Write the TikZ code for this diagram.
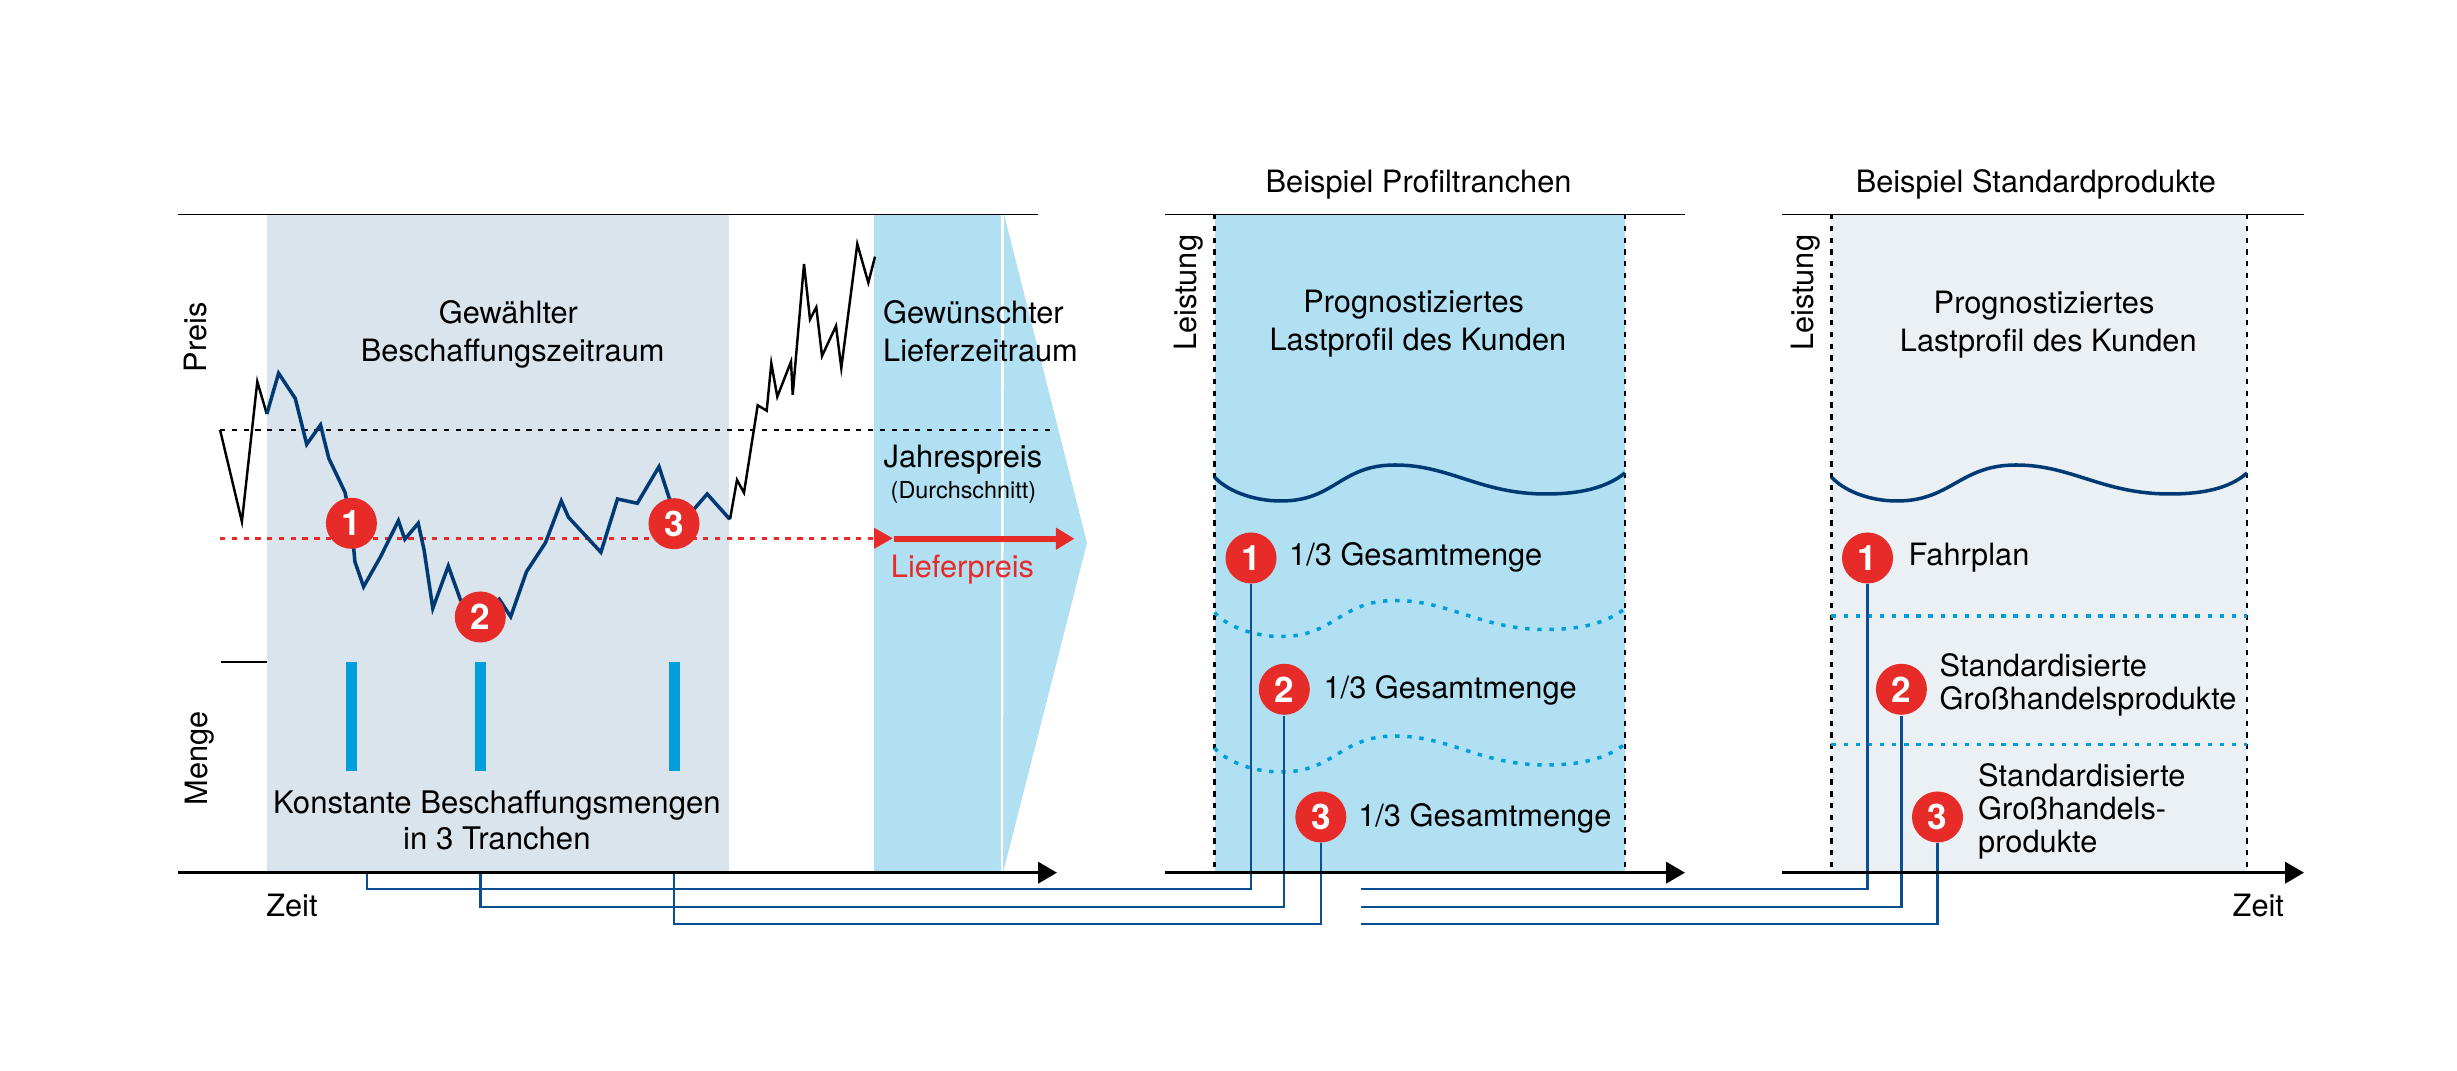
\documentclass[tikz,border=0pt]{standalone}
\usepackage{xcolor}
\usepackage{fontspec}
\setmainfont{TeX Gyre Heros}
\usetikzlibrary{arrows.meta}
\definecolor{graublau}{HTML}{D9E4EC}
\definecolor{hellblau}{HTML}{B1E0F3}
\definecolor{blassblau}{HTML}{EBF0F5}
\definecolor{signalrot}{HTML}{E62B28}
\definecolor{kurvenblau}{HTML}{003A75}
\definecolor{leiterblau}{HTML}{0B4F92}
\definecolor{balkenblau}{HTML}{009FDB}

\begin{document}
\begin{tikzpicture}[x=0.01cm, y=-0.01cm, >=Stealth,
  every node/.style={inner sep=0pt, font=\fontsize{8.75}{10.9}\selectfont},
  txt/.style={anchor=base west, align=left},
  eng/.style={font=\fontsize{8.75}{9.5}\selectfont},
  mitte/.style={anchor=base, align=center},
  klein/.style={anchor=base west, font=\fontsize{6.65}{8}\selectfont},
  hoch/.style={anchor=base west, rotate=90},
  marke/.style={circle, fill=signalrot, minimum size=0.51cm, text=white, font=\fontsize{10}{10}\selectfont\bfseries},
  kopflinie/.style={line width=0.42pt},
  achse/.style={-{Stealth[inset=0pt, length=5.4pt, width=6pt]}, line width=1pt},
  strich/.style={dash pattern=on 1.5pt off 1.85pt, line width=0.72pt},
  punkte/.style={balkenblau, dash pattern=on 1.25pt off 2.2pt, line width=1pt},
  last/.style={kurvenblau, line width=1pt},
  schwarzkurve/.style={line width=0.7pt},
  leiter/.style={leiterblau, line width=0.65pt},
  balken/.style={balkenblau, line width=3.1pt}]
\useasboundingbox (0,0) rectangle (2457,1071);

% Panels
\fill[graublau] (267,214) rectangle (729,873);
\fill[hellblau] (874,214) rectangle (1001,873);
\fill[hellblau] (1004,214) -- (1087,543) -- (1003,873) -- cycle;
\fill[hellblau] (1214.5,214) rectangle (1625,873);
\fill[blassblau] (1831.4,214) rectangle (2247,873);

% Top lines
\draw[kopflinie] (178,214.3) -- (1038,214.3);
\draw[kopflinie] (1165,214.3) -- (1685,214.3);
\draw[kopflinie] (1782,214.3) -- (2304,214.3);

% Dashed borders
\draw[strich] (1214.5,214) -- (1214.5,873);
\draw[strich] (1625,214) -- (1625,873);
\draw[strich] (1831.4,214) -- (1831.4,873);
\draw[strich] (2247,214) -- (2247,873);

% Price levels
\draw[strich] (220,430) -- (1050,430);
\draw[strich, signalrot] (220,538.3) -- (874,538.3);
\draw[line width=0pt, signalrot, -{Stealth[inset=0pt, length=5.3pt, width=6pt]}] (874,538.3) -- (892.7,538.3);

% Price curve
\draw[schwarzkurve] (220.1,430) -- (241.9,521.7) -- (257.3,381.7) -- (266.8,414);
\draw[last] (266.8,414) -- (278.6,373.3) -- (295.2,398.3) -- (306.7,444.3) -- (320.5,425)
  -- (328.8,458.3) -- (345,492.3) -- (351.4,523) -- (354.9,561.7) -- (363.6,586.7) -- (380.6,556.7)
  -- (398.4,520.7) -- (404.8,539.3) -- (418.2,523.3) -- (424.1,550) -- (432.8,608.3) -- (448.3,566)
  -- (460.5,600) -- (480.3,617) -- (499.3,599.3) -- (510.7,616.7) -- (526.5,571.7) -- (545.5,542.7)
  -- (561.3,501) -- (568.5,517.3) -- (600.9,552.3) -- (617.5,499) -- (637.3,503.3) -- (659,466.7)
  -- (669.3,498.3) -- (682,523) -- (707.2,494) -- (729.8,519.3);
\draw[schwarzkurve] (730,519.3) -- (737,480) -- (744,492.7) -- (757.7,405.3) -- (766.7,410.7)
  -- (771.3,363.3) -- (777.3,396.7) -- (791,361.7) -- (792.7,394.7) -- (804,264) -- (810,319.3)
  -- (816.3,307.3) -- (822,356) -- (836,326) -- (841.3,368) -- (857.3,244) -- (868.3,282.7) -- (875,256.7);

% Delivery price
\coordinate (lpa) at (894,538.7);
\coordinate (lpb) at (1079,538.7);
\draw[signalrot, line width=1.6pt, -{Stealth[inset=0pt, length=5.3pt, width=6pt, sep=1.3pt]}] (lpa) -- (lpb);

% Quantities
\draw[balken] (351.3,661.7) -- (351.3,771);
\draw[balken] (480.6,661.7) -- (480.6,771);
\draw[balken] (674.2,661.7) -- (674.2,771);
\draw[line width=0.65pt] (221,662) -- (267,662);

% Load profiles
\draw[last] (1214.5,477) .. controls (1226,490) and (1252,501) .. (1281,501)
  .. controls (1335,501) and (1340,465) .. (1395,465)
  .. controls (1450,465) and (1480,494) .. (1546,494)
  .. controls (1580,494) and (1606,488) .. (1625,473);
\draw[punkte] (1214.5,612.5) .. controls (1226,625.5) and (1252,636.5) .. (1281,636.5)
  .. controls (1335,636.5) and (1340,600.5) .. (1395,600.5)
  .. controls (1450,600.5) and (1480,629.5) .. (1546,629.5)
  .. controls (1580,629.5) and (1606,623.5) .. (1625,608.5);
\draw[punkte] (1214.5,748) .. controls (1226,761) and (1252,772) .. (1281,772)
  .. controls (1335,772) and (1340,736) .. (1395,736)
  .. controls (1450,736) and (1480,765) .. (1546,765)
  .. controls (1580,765) and (1606,759) .. (1625,744);
\draw[last] (1831.4,477) .. controls (1843,490) and (1868,501) .. (1897,501)
  .. controls (1951,501) and (1960,465) .. (2016,465)
  .. controls (2072,465) and (2102,494) .. (2170,494)
  .. controls (2204,494) and (2230,488) .. (2247,473);
\draw[punkte] (1831.4,616) -- (2247,616);
\draw[punkte] (1831.4,744.7) -- (2247,744.7);

% Markers
\node[marke] (k1) at (351.4,523.3) {1};
\node[marke] (k2) at (480.3,617) {2};
\node[marke] (k3) at (674,523.7) {3};
\node[marke] (p1) at (1251,558) {1};
\node[marke] (p2) at (1284.3,689.3) {2};
\node[marke] (p3) at (1320.8,817) {3};
\node[marke] (s1) at (1867.5,558) {1};
\node[marke] (s2) at (1901.4,689.3) {2};
\node[marke] (s3) at (1937.5,817) {3};

% Leaders
\coordinate (ta) at (367.3,873);
\coordinate (tb) at (480.6,873);
\coordinate (tc) at (674.2,873);
\coordinate (ua) at (1251,889.3);
\coordinate (ub) at (1284.3,907);
\coordinate (uc) at (1320.8,924.3);
\coordinate (va) at (1361,889.3);
\coordinate (vb) at (1361,907);
\coordinate (vc) at (1361,924.3);
\draw[leiter] (ta) |- (ua) -- (p1);
\draw[leiter] (tb) |- (ub) -- (p2);
\draw[leiter] (tc) |- (uc) -- (p3);
\draw[leiter] (va) -| (s1);
\draw[leiter] (vb) -| (s2);
\draw[leiter] (vc) -| (s3);

% Time axes
\draw[achse] (178,872.7) -- (1057,872.7);
\draw[achse] (1165.4,872.7) -- (1685,872.7);
\draw[achse] (1782,872.7) -- (2304,872.7);

% Axis labels
\node[hoch] (preis) at (206.7,373) {Preis};
\node[hoch] (menge) at (207.4,806) {Menge};
\node[hoch] (leistunga) at (1196,351.7) {Leistung};
\node[hoch] (leistungb) at (1813,351.7) {Leistung};
\node[txt] (zeita) at (265.6,916.7) {Zeit};
\node[txt] (zeitb) at (2232,916.7) {Zeit};

% Texts
\node[mitte] (kopfa) at (1418.6,192.3) {Beispiel Profiltranchen};
\node[mitte] (kopfb) at (2035.8,192.3) {Beispiel Standardprodukte};
\node[mitte] (bz) at (512.7,361.5) {Gewählter\hspace*{2.4pt}\\Beschaffungszeitraum};
\node[txt] (lz) at (882.5,361.5) {Gewünschter\\Lieferzeitraum};
\node[txt] (jp) at (883,467.7) {Jahrespreis};
\node[klein] (ds) at (890,498.3) {(Durchschnitt)};
\node[txt, text=signalrot] (lp) at (890.2,577.7) {Lieferpreis};
\node[mitte, font=\fontsize{8.85}{10.2}\selectfont] (kb) at (496.9,849.5) {Konstante Beschaffungsmengen\\in 3 Tranchen};
\node[mitte] (pa) at (1417.9,351) {Prognostiziertes\hspace*{2.4pt}\\Lastprofil des Kunden};
\node[mitte] (pb) at (2048.3,352) {Prognostiziertes\hspace*{2.4pt}\\Lastprofil des Kunden};
\node[txt] (ga) at (1288.5,566) {1/3 Gesamtmenge};
\node[txt] (gb) at (1322.9,699) {1/3 Gesamtmenge};
\node[txt] (gc) at (1357.6,827) {1/3 Gesamtmenge};
\node[txt] (fp) at (1908,566) {Fahrplan};
\node[txt, eng] (sa) at (1939,710) {Standardisierte\\Großhandelsprodukte};
\node[txt, eng] (sb) at (1977.5,853) {Standardisierte\\Großhandels-\\produkte};
\end{tikzpicture}
\end{document}
